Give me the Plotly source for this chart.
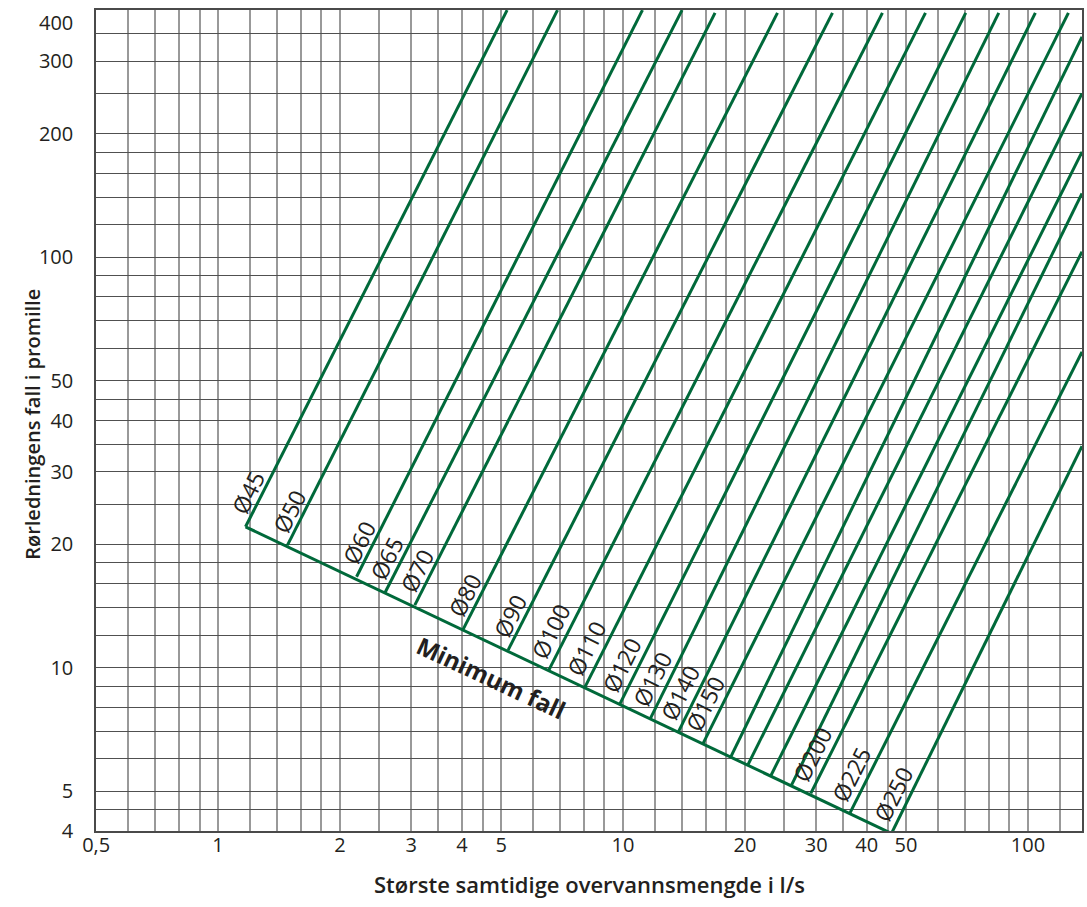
import math
import plotly.graph_objects as go

# ---- data ----
pipe_labels = ["Ø45", "Ø50", "Ø60", "Ø65", "Ø70", "Ø80", "Ø90", "Ø100", "Ø110", "Ø120",
               "Ø130", "Ø140", "Ø150", "", "", "", "", "Ø200", "Ø225", "Ø250"]
# start point of each pipe line (on the "Minimum fall" line)
start_flow = [1.169, 1.484, 2.198, 2.585, 3.061, 4.029, 5.203, 6.559, 8.048, 9.819,
              11.69, 13.68, 15.77, 18.46, 20.29, 23.17, 26.07, 29.09, 36.31, 46.03]
start_fall = [22.03, 19.88, 16.64, 15.24, 14.20, 12.39, 11.03, 9.856, 8.944, 8.145,
              7.516, 6.949, 6.533, 6.060, 5.761, 5.446, 5.169, 4.934, 4.411, 3.942]
# end point of each pipe line (top or right edge)
end_flow = [5.174, 6.891, 11.17, 13.99, 16.88, 24.07, 32.91, 43.72, 55.84, 70.22,
            84.72, 104.3, 125.9, 136, 136, 136, 136, 136, 136, 136]
end_fall = [400, 400, 400, 400, 393.9, 393.9, 393.9, 393.9, 393.9, 393.9,
            393.9, 393.9, 393.9, 344.4, 250.6, 180.6, 143.0, 103.1, 58.80, 34.64]

x_grid = [0.5, 0.6, 0.7, 0.8, 0.9, 1, 1.2, 1.4, 1.6, 1.8, 2, 2.5, 3, 3.5, 4, 4.5, 5,
          6, 7, 8, 9, 10, 12, 14, 16, 18, 20, 25, 30, 35, 40, 45, 50, 60, 70, 80, 90,
          100, 120]
x_labels = {0.5: "0,5", 1: "1", 2: "2", 3: "3", 4: "4", 5: "5", 10: "10", 20: "20",
            30: "30", 40: "40", 50: "50", 100: "100"}
y_grid = [4, 4.5, 5, 6, 7, 8, 9, 10, 12, 14, 16, 18, 20, 25, 30, 35, 40, 45, 50, 60,
          70, 80, 90, 100, 120, 140, 160, 180, 200, 250, 300, 350, 400]
y_labels = {4: "4", 5: "5", 10: "10", 20: "20", 30: "30", 40: "40", 50: "50",
            100: "100", 200: "200", 300: "300"}
y_top_label = "400"   # label of the top edge, drawn just inside the edge

x_title = "Største samtidige overvannsmengde i l/s"
y_title = "Rørledningens fall i promille"
min_fall_label = "Minimum fall"

# ---- styling ----
GREEN = "#00693a"
TEXT = "#231f20"
FONT = "Open Sans"
X_MIN, X_MAX = 0.5, 136
Y_MIN, Y_MAX = 4, 400
PX_PER_DEC_Y = 821 / (math.log10(Y_MAX) - math.log10(Y_MIN))

fig = go.Figure()

# pipe lines
for i in range(len(start_flow)):
    fig.add_trace(go.Scatter(
        x=[start_flow[i], end_flow[i]], y=[start_fall[i], end_fall[i]],
        mode="lines", line=dict(color=GREEN, width=3),
        name=pipe_labels[i] or "pipe", hoverinfo="skip", showlegend=False))

# minimum fall line
fig.add_trace(go.Scatter(
    x=[start_flow[0], start_flow[-1]], y=[start_fall[0], start_fall[-1]],
    mode="lines", line=dict(color=GREEN, width=3),
    name=min_fall_label, hoverinfo="skip", showlegend=False))

annotations = []
for i, lab in enumerate(pipe_labels):
    if not lab:
        continue
    anchor_fall = max(start_fall[i], Y_MIN * 1.001)
    extra = (math.log10(anchor_fall) - math.log10(start_fall[i])) * PX_PER_DEC_Y
    annotations.append(dict(
        x=math.log10(start_flow[i]), y=math.log10(anchor_fall),
        xref="x", yref="y", text=lab, showarrow=False, textangle=-63.5,
        xshift=2, yshift=34 + 5 * (len(lab) - 3) - extra,
        font=dict(family=FONT, size=23, color=TEXT)))

annotations.append(dict(
    x=math.log10(4.73), y=math.log10(9.45), xref="x", yref="y",
    text=min_fall_label, showarrow=False, textangle=25,
    font=dict(family=FONT, size=24, color=TEXT, weight=700)))

# top-edge y label (kept inside the page)
annotations.append(dict(
    x=0, y=math.log10(Y_MAX), xref="paper", yref="y", text=y_top_label,
    showarrow=False, xanchor="right", yanchor="middle", xshift=-21, yshift=-12,
    font=dict(family=FONT, size=20, color=TEXT)))

annotations.append(dict(
    x=0.5, y=-0.065, xref="paper", yref="paper", text=x_title, showarrow=False,
    xanchor="center", yanchor="middle",
    font=dict(family=FONT, size=22, color=TEXT, weight=600)))
annotations.append(dict(
    x=-0.0652, y=0.4956, xref="paper", yref="paper", text=y_title, showarrow=False,
    xanchor="center", yanchor="middle", textangle=-90,
    font=dict(family=FONT, size=20, color=TEXT, weight=600)))

fig.update_layout(
    width=1087, height=907,
    margin=dict(l=96, r=5, t=10, b=76, autoexpand=False),
    paper_bgcolor="white", plot_bgcolor="white",
    showlegend=False,
    annotations=annotations,
    font=dict(family=FONT, size=20, color=TEXT),
)

fig.update_xaxes(
    type="log", range=[math.log10(X_MIN) - 0.0004, math.log10(X_MAX)],
    tickmode="array", tickvals=x_grid,
    ticktext=[x_labels.get(v, "") for v in x_grid],
    showgrid=True, gridcolor="#999999", gridwidth=1.5,
    showline=True, mirror=True, linecolor="#4a4a4a", linewidth=1.5,
    ticks="", ticklabelstandoff=-5, ticklabeloverflow="allow", automargin=False,
    tickfont=dict(family=FONT, size=20, color=TEXT),
    zeroline=False, fixedrange=True)

fig.update_yaxes(
    type="log", range=[math.log10(Y_MIN) - 0.0004, math.log10(Y_MAX) + 0.0004],
    tickmode="array", tickvals=y_grid,
    ticktext=[y_labels.get(v, "") for v in y_grid],
    showgrid=True, gridcolor="#505050", gridwidth=1,
    showline=True, mirror=True, linecolor="#4a4a4a", linewidth=1.5,
    ticks="", ticklabelstandoff=17, ticklabeloverflow="allow", automargin=False,
    tickfont=dict(family=FONT, size=20, color=TEXT),
    zeroline=False, fixedrange=True)

fig.write_html("out.html", config={"displayModeBar": False},
               post_script="document.body.style.margin='0';")
